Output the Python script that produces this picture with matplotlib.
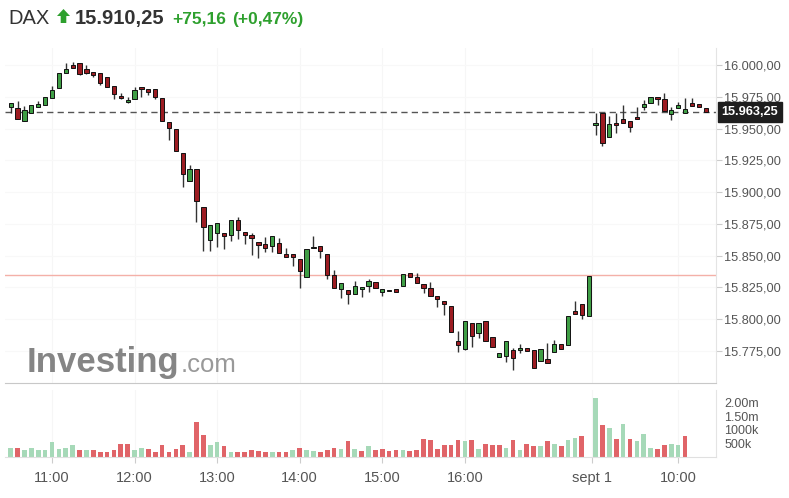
"""
DAX 5-minute candles with volume - recreation of an Investing.com style chart
"""
import numpy as np
import matplotlib
matplotlib.use("Agg")
import matplotlib.pyplot as plt
from matplotlib.patches import Polygon
from matplotlib.ticker import FuncFormatter, FixedLocator

plt.rcParams["font.family"] = ["Liberation Sans", "DejaVu Sans"]

# 5-minute bars: 10:30-17:30 (31 Aug), then 09:00-10:20 (sept 1)
opens = [15966.7, 15966.4, 15955.9, 15962.5, 15966.7, 15968.5, 15974.3, 15981.7, 15993.5, 16000.0,
         16001.3, 15996.9, 15994.7, 15993.5, 15990.8, 15983.7, 15976.0, 15970.6, 15973.0, 15982.9,
         15980.9, 15980.9, 15973.8, 15955.4, 15949.4, 15930.5, 15908.7, 15918.2, 15888.5, 15862.3,
         15868.0, 15867.6, 15866.2, 15878.0, 15868.8, 15866.2, 15861.0, 15859.0, 15857.6, 15859.7,
         15851.1, 15851.3, 15847.1, 15833.0, 15856.3, 15857.9, 15851.1, 15834.8, 15823.5, 15823.0,
         15819.8, 15823.5, 15826.1, 15829.5, 15821.4, 15821.8, 15823.4, 15826.1, 15836.1, 15833.4,
         15827.7, 15824.3, 15818.5, 15814.6, 15810.0, 15782.6, 15776.5, 15796.8, 15788.9, 15798.8,
         15785.8, 15770.0, 15771.4, 15775.8, 15775.6, 15777.0, 15775.8, 15767.3, 15768.9, 15774.3,
         15780.5, 15779.7, 15806.7, 15811.7, 15802.5,
         15953.0, 15962.0, 15943.1, 15954.6, 15957.3, 15956.2, 15959.3, 15966.7, 15969.9, 15975.1,
         15973.0, 15961.4, 15965.9, 15962.5, 15970.3, 15969.3, 15966.5]
highs = [15970.5, 15971.7, 15967.7, 15968.3, 15971.7, 15975.1, 15983.5, 15993.9, 16001.8, 16002.6,
         16001.3, 16000.0, 15994.7, 15993.5, 15990.8, 15983.7, 15978.2, 15975.1, 15982.5, 15982.9,
         15980.9, 15980.9, 15973.8, 15955.4, 15949.4, 15930.5, 15921.3, 15918.2, 15888.5, 15874.5,
         15876.0, 15867.6, 15878.0, 15880.2, 15868.8, 15867.6, 15861.0, 15865.0, 15865.7, 15863.8,
         15855.8, 15851.3, 15847.1, 15855.0, 15865.5, 15857.9, 15851.1, 15838.7, 15828.2, 15823.0,
         15830.0, 15825.5, 15831.9, 15829.5, 15823.5, 15823.3, 15823.4, 15835.6, 15836.1, 15836.6,
         15827.7, 15829.5, 15818.5, 15814.6, 15810.0, 15791.0, 15798.8, 15796.8, 15797.3, 15798.8,
         15785.8, 15773.2, 15782.6, 15777.6, 15780.5, 15777.0, 15775.8, 15776.3, 15781.0, 15783.6,
         15780.5, 15802.8, 15814.3, 15811.7, 15834.3,
         15962.0, 15962.0, 15960.0, 15962.0, 15968.5, 15956.2, 15967.2, 15972.5, 15975.1, 15975.1,
         15977.7, 15967.2, 15971.2, 15973.8, 15973.8, 15969.3, 15966.5]
lows = [15962.0, 15957.3, 15955.9, 15962.5, 15966.7, 15968.5, 15974.3, 15981.7, 15993.5, 15997.4,
        15991.9, 15992.9, 15990.8, 15984.5, 15982.9, 15973.2, 15973.5, 15970.3, 15973.0, 15975.1,
        15976.4, 15973.0, 15956.2, 15941.0, 15932.6, 15903.8, 15908.7, 15876.7, 15853.9, 15853.9,
        15856.6, 15855.0, 15861.8, 15862.9, 15859.1, 15850.5, 15848.4, 15853.1, 15853.1, 15851.9,
        15848.7, 15842.1, 15824.3, 15833.0, 15856.3, 15847.9, 15831.6, 15824.3, 15816.4, 15811.7,
        15819.8, 15817.7, 15821.6, 15824.3, 15818.6, 15821.8, 15821.3, 15826.1, 15833.0, 15828.2,
        15820.3, 15818.3, 15809.4, 15803.3, 15789.9, 15774.4, 15775.5, 15778.4, 15785.0, 15783.0,
        15777.9, 15770.0, 15766.6, 15760.0, 15773.5, 15774.6, 15761.5, 15767.3, 15765.7, 15774.3,
        15776.8, 15779.7, 15804.1, 15799.9, 15802.5,
        15944.9, 15936.3, 15943.1, 15946.3, 15954.6, 15947.5, 15957.3, 15964.6, 15969.9, 15968.5,
        15963.8, 15956.7, 15965.9, 15962.5, 15967.7, 15966.7, 15963.25]
closes = [15970.3, 15957.3, 15964.4, 15968.3, 15969.3, 15975.1, 15980.3, 15993.9, 15996.8, 15997.4,
          15992.9, 15994.0, 15992.1, 15985.6, 15982.9, 15976.9, 15974.0, 15972.8, 15980.3, 15980.9,
          15978.5, 15975.1, 15956.2, 15950.2, 15932.6, 15914.0, 15918.2, 15893.0, 15872.5, 15874.5,
          15876.0, 15865.5, 15878.0, 15870.2, 15866.2, 15863.6, 15858.4, 15855.8, 15865.7, 15851.9,
          15848.7, 15849.0, 15837.9, 15855.0, 15857.0, 15853.7, 15834.8, 15824.3, 15828.2, 15819.8,
          15826.5, 15825.5, 15829.8, 15824.3, 15823.5, 15823.3, 15821.3, 15835.6, 15833.0, 15828.2,
          15824.3, 15818.3, 15815.7, 15811.8, 15789.9, 15780.0, 15798.8, 15786.8, 15797.3, 15783.0,
          15777.9, 15773.2, 15782.6, 15769.2, 15777.6, 15774.6, 15761.5, 15776.3, 15765.7, 15780.5,
          15776.8, 15802.8, 15804.1, 15803.6, 15834.3,
          15954.0, 15938.9, 15953.3, 15952.6, 15954.6, 15951.5, 15957.3, 15969.3, 15975.1, 15973.0,
          15963.8, 15964.6, 15968.5, 15965.1, 15967.7, 15966.7, 15963.25]
# volume in millions (nan = no bar shown)
volumes = [0.35, 0.35, 0.25, 0.35, 0.25, 0.25, 0.54, 0.30, 0.35, 0.44,
           0.25, 0.25, 0.25, 0.20, 0.20, 0.25, 0.49, 0.49, 0.25, 0.35,
           0.30, 0.20, 0.44, 0.20, 0.30, 0.44, 0.17, 1.28, 0.83, 0.44,
           0.54, 0.40, 0.20, 0.17, 0.17, 0.25, 0.22, 0.17, 0.17, 0.17,
           0.17, 0.25, 0.35, 0.25, 0.22, 0.17, 0.25, 0.35, 0.30, 0.59,
           0.30, 0.22, 0.40, 0.25, 0.30, 0.21, 0.25, 0.25, 0.21, 0.25,
           0.68, 0.62, 0.30, 0.44, 0.44, 0.62, 0.58, 0.62, 0.30, 0.49,
           0.44, 0.44, 0.35, 0.62, 0.25, 0.49, 0.40, 0.40, 0.58, 0.49,
           0.40, 0.62, 0.72, 0.77, np.nan,
           2.20, 1.19, 1.09, 0.68, 1.23, 0.68, 0.58, 0.86, 0.35, 0.30,
           0.44, 0.49, 0.44, 0.77, np.nan, np.nan, np.nan]

time_ticks = [6, 18, 30, 42, 54, 66, 84.5, 97]
time_labels = ["11:00", "12:00", "13:00", "14:00", "15:00", "16:00", "sept 1", "10:00"]
price_ticks = [15775, 15800, 15825, 15850, 15875, 15900, 15925, 15950, 15975, 16000]
vol_ticks = [0.5, 1.0, 1.5, 2.0]
vol_labels = ["500k", "1000k", "1.50m", "2.00m"]

last_price = 15963.25
prev_close = 15835.09
header_price = "15.910,25"
header_change = "+75,16"
header_pct = "(+0,47%)"

o, h, l, c = map(np.array, (opens, highs, lows, closes))
v = np.array(volumes)
x = np.arange(len(o))

GREEN, RED = "#3f9e45", "#9c1c22"
VGREEN, VRED = "#a6d9b8", "#e06468"
TXT = "#555555"

W, H = 789, 498
fig = plt.figure(figsize=(W / 100, H / 100), dpi=100)
ax = fig.add_axes([5 / W, 1 - 383 / H, 711 / W, 335 / H])
axv = fig.add_axes([5 / W, 1 - 457 / H, 711 / W, 67 / H], sharex=ax)

# grid + reference lines
for t in time_ticks:
    ax.axvline(t, color="#f6f6f6", lw=0.8, zorder=0)
    axv.axvline(t, color="#f6f6f6", lw=0.8, zorder=0)
for p in price_ticks:
    ax.axhline(p, color="#f8f8f8", lw=0.8, zorder=0)
ax.axhline(prev_close, color="#f4b0a8", lw=1.0, zorder=1)
ax.axhline(last_price, color="#555555", lw=1.0, dashes=(4.5, 3), zorder=1)

# candles
up = c >= o
ax.vlines(x, l, h, color="#333333", lw=1.0, zorder=2)
body = np.maximum(np.abs(c - o), 0.9)
ax.bar(x, body, bottom=np.minimum(o, c), width=0.62,
       color=np.where(up, GREEN, RED), edgecolor="#111111", linewidth=0.7, zorder=3)

# volume, coloured by close vs previous close
vup = np.r_[True, c[1:] >= c[:-1]]
ok = ~np.isnan(v)
axv.bar(x[ok], v[ok], width=0.68, color=np.where(vup, VGREEN, VRED)[ok], zorder=2)

ax.set_xlim(-0.83, 102.5)
ax.set_ylim(15749.8, 16013.4)
axv.set_ylim(0, 2.48)


def de_fmt(val, pos=None):
    s = f"{val:,.2f}"
    return s.replace(",", "X").replace(".", ",").replace("X", ".")


for a in (ax, axv):
    a.yaxis.tick_right()
    for s in ("top", "left"):
        a.spines[s].set_visible(False)
    a.spines["right"].set_color("#e4e4e4")
    a.tick_params(axis="y", colors="#cccccc", labelcolor=TXT, length=4, pad=2)

ax.spines["bottom"].set_color("#c8c8c8")
ax.yaxis.set_major_locator(FixedLocator(price_ticks))
ax.yaxis.set_major_formatter(FuncFormatter(de_fmt))
ax.tick_params(axis="y", labelsize=9.2)
ax.tick_params(axis="x", bottom=False, labelbottom=False)

axv.spines["bottom"].set_color("#e0e0e0")
axv.set_yticks(vol_ticks)
axv.set_yticklabels(vol_labels)
axv.tick_params(axis="y", labelsize=9, length=0, pad=6)
axv.set_xticks(time_ticks)
axv.set_xticklabels(time_labels)
axv.tick_params(axis="x", colors="#cccccc", labelcolor=TXT, labelsize=10.5, length=4, pad=6)

# last price tag
ax.annotate(de_fmt(last_price), xy=(1.0, last_price), xycoords=("axes fraction", "data"),
            xytext=(4, 0), textcoords="offset points", va="center", ha="left",
            color="white", fontsize=9.2, fontweight="bold", annotation_clip=False,
            bbox=dict(boxstyle="square,pad=0.3", fc="#1e1e1e", ec="#1e1e1e"))

# header
fig.text(8 / W, 1 - 24 / H, "DAX", fontsize=14.5, color="#333333", va="baseline")
fig.text(75 / W, 1 - 24 / H, header_price, fontsize=14.5, fontweight="bold",
         color="#333333", va="baseline")
fig.text(172 / W, 1 - 24 / H, header_change, fontsize=12.5, fontweight="bold",
         color="#2ea02e", va="baseline")
fig.text(232 / W, 1 - 24 / H, header_pct, fontsize=12.5, fontweight="bold",
         color="#2ea02e", va="baseline")
arrow = [(57, 16), (63.5, 9), (70, 16), (66.3, 16), (66.3, 23), (60.7, 23), (60.7, 16)]
fig.patches.append(Polygon([(px / W, 1 - py / H) for px, py in arrow], closed=True,
                           transform=fig.transFigure, fc="#2ea02e", ec="none"))

# watermark
wm = fig.text(27 / W, 1 - 372 / H, "Investing", fontsize=25, fontweight="bold",
              color="#858585", va="baseline")
fig.canvas.draw()
bb = wm.get_window_extent()
fig.text((bb.x1 + 1) / W, 1 - 372 / H, ".com", fontsize=18.5, color="#999999", va="baseline")

fig.savefig("out.png", dpi=100, facecolor="white")
